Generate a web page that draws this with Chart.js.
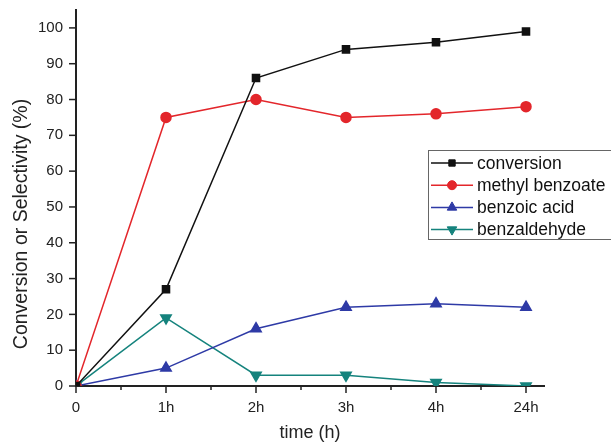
<!DOCTYPE html>
<html>
<head>
<meta charset="utf-8">
<script src="https://cdn.jsdelivr.net/npm/chart.js@4"></script>
<style>
  html, body { margin: 0; padding: 0; background: #fff; }
  #wrap { width: 611px; height: 442px; }
</style>
</head>
<body>
<div id="wrap"><canvas id="grafico" width="611" height="442"></canvas></div>
<script>
// Datos
const tiempos = [0, 1, 2, 3, 4, 5];
const etiquetasX = ['0', '1h', '2h', '3h', '4h', '24h'];
const conversion = [0, 27, 86, 94, 96, 99];
const metilBenzoato = [0, 75, 80, 75, 76, 78];
const acidoBenzoico = [0, 5, 16, 22, 23, 22];
const benzaldehido = [0, 19, 3, 3, 1, 0];
const ticksY = [0, 10, 20, 30, 40, 50, 60, 70, 80, 90, 100];

const fuente = '"Liberation Sans", Arial, sans-serif';
const puntos = (valores) => tiempos.map((t, i) => ({ x: t, y: valores[i] }));

// Dibuja las marcas de los ejes (mayores y menores) y el título del eje Y
const marcasEjes = {
  id: 'marcasEjes',
  afterDraw(chart) {
    const ctx = chart.ctx;
    const x = chart.scales.x, y = chart.scales.y;
    ctx.save();
    ctx.strokeStyle = '#222';
    ctx.lineWidth = 1.5;
    for (let v = 0; v <= 5; v += 0.5) {
      const px = x.getPixelForValue(v);
      const largo = Number.isInteger(v) ? 7 : 4;
      ctx.beginPath();
      ctx.moveTo(px, y.bottom);
      ctx.lineTo(px, y.bottom + largo);
      ctx.stroke();
    }
    ticksY.forEach(v => {
      const py = y.getPixelForValue(v);
      ctx.beginPath();
      ctx.moveTo(x.left, py);
      ctx.lineTo(x.left - 7, py);
      ctx.stroke();
    });
    // título del eje Y
    ctx.translate(22, 224);
    ctx.rotate(-Math.PI / 2);
    ctx.font = '19.5px ' + fuente;
    ctx.fillStyle = '#222';
    ctx.textAlign = 'center';
    ctx.textBaseline = 'middle';
    ctx.fillText('Conversion or Selectivity (%)', 0, 0);
    ctx.restore();
  }
};

// Leyenda dentro del área del gráfico
const leyendaCaja = {
  id: 'leyendaCaja',
  afterDraw(chart) {
    const ctx = chart.ctx;
    const x0 = 428, y0 = 150, w = 200, h = 89;
    ctx.save();
    ctx.fillStyle = '#fff';
    ctx.fillRect(x0, y0, w, h);
    ctx.strokeStyle = '#666';
    ctx.lineWidth = 1;
    ctx.strokeRect(x0 + 0.5, y0 + 0.5, w, h);
    ctx.font = '17.5px ' + fuente;
    ctx.textBaseline = 'middle';
    chart.data.datasets.forEach((ds, i) => {
      const yy = y0 + 13 + i * 22.2;
      ctx.strokeStyle = ds.borderColor;
      ctx.fillStyle = ds.borderColor;
      ctx.lineWidth = 1.5;
      ctx.beginPath();
      ctx.moveTo(x0 + 3, yy);
      ctx.lineTo(x0 + 45, yy);
      ctx.stroke();
      ctx.lineWidth = 1;
      Chart.helpers.drawPoint(ctx, {
        pointStyle: ds.pointStyle,
        rotation: ds.pointRotation || 0,
        radius: ds.pointRadius - 0.5,
        borderWidth: 1
      }, x0 + 24, yy);
      ctx.fillStyle = '#111';
      ctx.fillText(ds.label, x0 + 49, yy + 1);
    });
    ctx.restore();
  }
};

const ctx = document.getElementById('grafico').getContext('2d');

function serie(label, valores, color, estilo, radio, rotacion) {
  return {
    label: label,
    data: puntos(valores),
    borderColor: color,
    backgroundColor: color,
    pointBackgroundColor: color,
    pointBorderColor: color,
    pointStyle: estilo,
    pointRadius: radio,
    pointRotation: rotacion || 0,
    borderWidth: 1.5,
    tension: 0
  };
}

new Chart(ctx, {
  type: 'line',
  data: {
    datasets: [
      serie('conversion', conversion, '#111111', 'rect', 5),
      serie('methyl benzoate', metilBenzoato, '#e3262b', 'circle', 5),
      serie('benzoic acid', acidoBenzoico, '#2e3aa6', 'triangle', 6),
      serie('benzaldehyde', benzaldehido, '#15837d', 'triangle', 6, 180)
    ]
  },
  options: {
    responsive: false,
    animation: false,
    layout: { padding: { top: 10, right: 67, left: 0, bottom: 0 } },
    plugins: {
      legend: { display: false },
      tooltip: { enabled: false }
    },
    scales: {
      x: {
        type: 'linear',
        min: 0,
        max: 5.2,
        grid: { display: false },
        border: { display: true, color: '#222', width: 2 },
        afterBuildTicks: (scale) => {
          scale.ticks = tiempos.map(v => ({ value: v }));
        },
        afterFit: (scale) => {
          scale.height = 56;
          scale.paddingLeft = 0;
          scale.paddingRight = 0;
        },
        ticks: {
          padding: 5,
          maxRotation: 0,
          autoSkip: false,
          color: '#222',
          font: { family: fuente, size: 15 },
          callback: (v) => etiquetasX[tiempos.indexOf(v)]
        },
        title: {
          display: true,
          text: 'time (h)',
          color: '#222',
          padding: { top: 0, bottom: -2 },
          font: { family: fuente, size: 18 }
        }
      },
      y: {
        min: 0,
        max: 105,
        grid: { display: false },
        border: { display: true, color: '#222', width: 2 },
        afterBuildTicks: (scale) => {
          scale.ticks = ticksY.map(v => ({ value: v }));
        },
        afterFit: (scale) => {
          scale.width = 76;
          scale.paddingTop = 0;
          scale.paddingBottom = 0;
        },
        ticks: {
          padding: 5,
          color: '#222',
          font: { family: fuente, size: 15 }
        }
      }
    }
  },
  plugins: [marcasEjes, leyendaCaja]
});
</script>
</body>
</html>
